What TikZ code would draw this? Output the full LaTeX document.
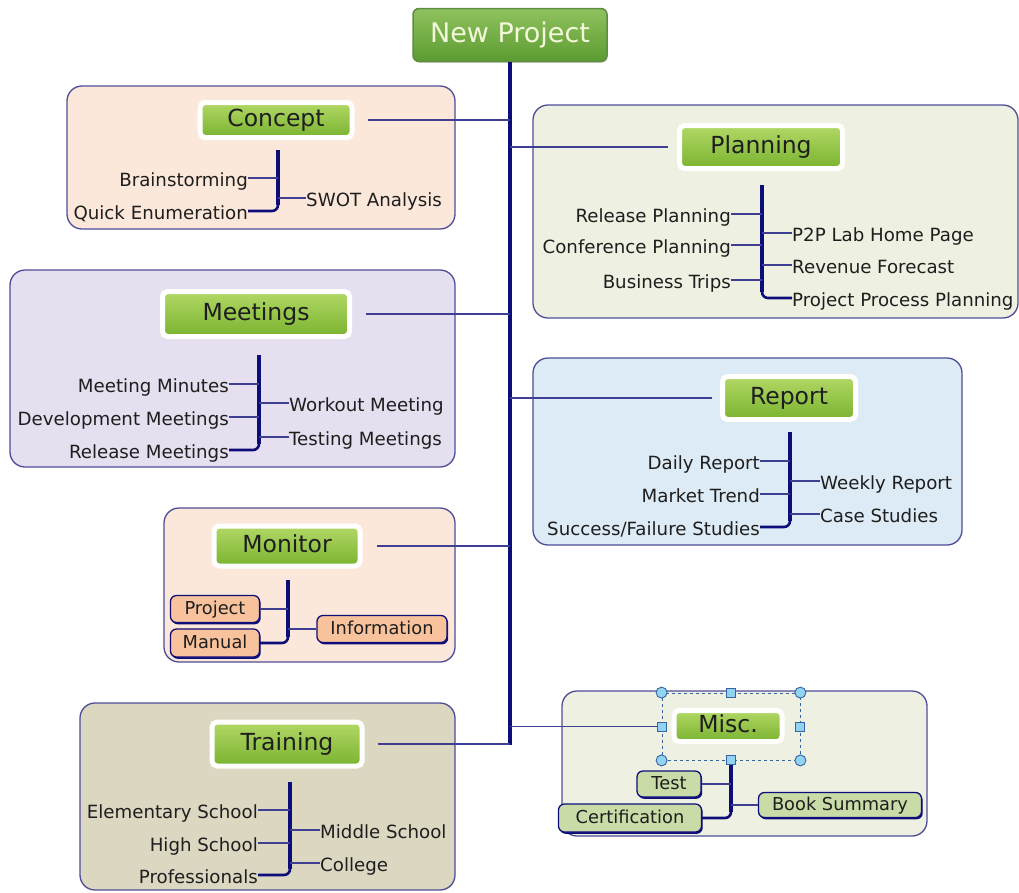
\documentclass[tikz,border=0pt]{standalone}
\usepackage{fontspec}
\setmainfont{DejaVu Sans}
\usetikzlibrary{shadows,calc}
\definecolor{navy}{HTML}{0D0D7A}
\definecolor{lineblue}{HTML}{3E3E92}
\definecolor{grpborder}{HTML}{4E4E98}
\definecolor{peach}{HTML}{FCE8DA}
\definecolor{sage}{HTML}{EEF1E1}
\definecolor{lavender}{HTML}{E5DFEF}
\definecolor{skyb}{HTML}{DCEBF5}
\definecolor{khaki}{HTML}{DBD7C1}
\definecolor{tgtop}{HTML}{B2D866}
\definecolor{tgbot}{HTML}{7AB32F}
\definecolor{nptop}{HTML}{8FC25E}
\definecolor{npbot}{HTML}{5C9B31}
\definecolor{npborder}{HTML}{5E8C44}
\definecolor{nptext}{HTML}{F3F8DA}
\definecolor{orangebox}{HTML}{F8C39C}
\definecolor{greenbox}{HTML}{C9DCA8}
\definecolor{handle}{HTML}{92D3F2}
\definecolor{handleb}{HTML}{3565A5}
\definecolor{txt}{HTML}{1E1E1E}
\begin{document}
\begin{tikzpicture}[x=1pt,y=-1pt,
  grp/.style={draw=grpborder, line width=1.3pt, rounded corners=15pt},
  topic/.style={rounded corners=5pt, draw=white, line width=5pt, top color=tgtop, bottom color=tgbot,
    font=\fontsize{23.5}{27}\selectfont, text=txt, inner sep=0pt, text height=17pt, text depth=4pt,
    drop shadow={shadow xshift=0.6pt, shadow yshift=-1.2pt, opacity=.3, fill=black!60}},
  leaf/.style={font=\fontsize{18.2}{21}\selectfont, text=txt, inner sep=0pt, text height=16.5pt, text depth=0pt},
  leafbox/.style={draw=navy, line width=1.3pt, rounded corners=6pt, font=\fontsize{17.8}{20}\selectfont,
    text=txt, inner sep=0pt, text height=13pt, text depth=3pt,
    drop shadow={shadow xshift=1.2pt, shadow yshift=-1.8pt, opacity=1, fill=navy}},
  bar/.style={draw=navy, line width=4.5pt},
  curve/.style={draw=navy, line width=2.6pt, rounded corners=6pt},
  conn/.style={draw=lineblue, line width=1.5pt},
  hcirc/.style={circle, draw=handleb, fill=handle, line width=0.9pt, minimum size=11pt, inner sep=0pt},
  hsq/.style={rectangle, draw=handleb, fill=handle, line width=0.9pt, minimum size=9pt, inner sep=0pt}
]
\useasboundingbox (0,0) rectangle (1019,892);

% group boxes
\draw[grp, fill=peach] (67,86) rectangle (455,229);
\draw[grp, fill=sage] (533,105) rectangle (1018,318);
\draw[grp, fill=lavender] (10,270) rectangle (455,467);
\draw[grp, fill=skyb] (533,358) rectangle (962,545);
\draw[grp, fill=peach] (164,508) rectangle (455,662);
\draw[grp, fill=khaki] (80,703) rectangle (455,890);
\draw[grp, fill=sage] (562,691) rectangle (927,836);

% root
\node[rounded corners=6pt, draw=npborder, line width=1.5pt, top color=nptop, bottom color=npbot,
  minimum width=194pt, minimum height=53pt, inner sep=0pt, text=nptext,
  font=\fontsize{27}{30}\selectfont,
  drop shadow={shadow xshift=0.6pt, shadow yshift=-1.2pt, opacity=.3, fill=black!60}] (np) at (510,35) {New Project};

% topics
\node[topic, minimum width=152pt, minimum height=35pt] (concept) at (276,120) {Concept};
\node[topic, minimum width=163pt, minimum height=43pt] (planning) at (761,147) {Planning};
\node[topic, minimum width=187pt, minimum height=45pt] (meet) at (256,314) {Meetings};
\node[topic, minimum width=133pt, minimum height=43pt] (report) at (789,398) {Report};
\node[topic, minimum width=146pt, minimum height=40pt] (mon) at (287,546) {Monitor};
\node[topic, minimum width=150pt, minimum height=44pt] (train) at (287,744) {Training};
\node[topic, minimum width=108pt, minimum height=31pt] (misc) at (728,726) {Misc.};

% trunk
\coordinate (tb) at (510,745);
\draw[bar] (np.south) -- (tb);
\draw[conn] ([xshift=13pt]concept.east) -- (concept.east -| tb);
\draw[conn] (planning.west -| tb) -- ([xshift=-9pt]planning.west);
\draw[conn] ([xshift=14pt]meet.east) -- (meet.east -| tb);
\draw[conn] (report.west -| tb) -- ([xshift=-8pt]report.west);
\draw[conn] ([xshift=14pt]mon.east) -- (mon.east -| tb);
\draw[conn] ([xshift=13pt]train.east) -- (train.east -| tb);

% selection around Misc
\node[draw=handleb, dashed, line width=0.8pt, minimum width=138pt, minimum height=67pt, inner sep=0pt] (sel) at (731,726.5) {};
\draw[conn] (sel.west -| tb) -- (sel.west);

% ---- Concept
\coordinate (cT) at (278,150); \coordinate (cB) at (278,211);
\node[leaf, anchor=east] (brain) at (248,178) {Brainstorming};
\node[leaf, anchor=east] (quick) at (248,211) {Quick Enumeration};
\node[leaf, anchor=west] (swot) at (306,198) {SWOT Analysis};
\draw[bar] (cT) -- ($(cB)+(0,-6)$);
\draw[conn] (brain.east) -- (brain.east -| cT);
\draw[curve] ($(cB)+(0,-10)$) |- (quick.east);
\draw[conn] (cT |- swot.west) -- (swot.west);

% ---- Planning
\coordinate (pT) at (762,185); \coordinate (pB) at (762,298);
\node[leaf, anchor=east] (relp) at (731,214) {Release Planning};
\node[leaf, anchor=east] (conf) at (731,245) {Conference Planning};
\node[leaf, anchor=east] (trip) at (731,280) {Business Trips};
\node[leaf, anchor=west] (p2p) at (792,233) {P2P Lab Home Page};
\node[leaf, anchor=west] (rev) at (792,265) {Revenue Forecast};
\node[leaf, anchor=west] (ppp) at (792,298) {Project Process Planning};
\draw[bar] (pT) -- ($(pB)+(0,-6)$);
\draw[conn] (relp.east) -- (relp.east -| pT);
\draw[conn] (conf.east) -- (conf.east -| pT);
\draw[conn] (trip.east) -- (trip.east -| pT);
\draw[conn] (pT |- p2p.west) -- (p2p.west);
\draw[conn] (pT |- rev.west) -- (rev.west);
\draw[curve] ($(pB)+(0,-10)$) |- (ppp.west);

% ---- Meetings
\coordinate (mT) at (259,355); \coordinate (mB) at (259,450);
\node[leaf, anchor=east] (mm) at (229,384) {Meeting Minutes};
\node[leaf, anchor=east] (dm) at (229,417) {Development Meetings};
\node[leaf, anchor=east] (rm) at (229,450) {Release Meetings};
\node[leaf, anchor=west] (wm) at (289,403) {Workout Meeting};
\node[leaf, anchor=west] (tm) at (289,437) {Testing Meetings};
\draw[bar] (mT) -- ($(mB)+(0,-6)$);
\draw[conn] (mm.east) -- (mm.east -| mT);
\draw[conn] (dm.east) -- (dm.east -| mT);
\draw[curve] ($(mB)+(0,-10)$) |- (rm.east);
\draw[conn] (mT |- wm.west) -- (wm.west);
\draw[conn] (mT |- tm.west) -- (tm.west);

% ---- Report
\coordinate (rT) at (790,432); \coordinate (rB) at (790,527);
\node[leaf, anchor=east] (daily) at (760,461) {Daily Report};
\node[leaf, anchor=east] (market) at (760,494) {Market Trend};
\node[leaf, anchor=east] (succ) at (760,527) {Success/Failure Studies};
\node[leaf, anchor=west] (weekly) at (820,481) {Weekly Report};
\node[leaf, anchor=west] (cases) at (820,514) {Case Studies};
\draw[bar] (rT) -- ($(rB)+(0,-6)$);
\draw[conn] (daily.east) -- (daily.east -| rT);
\draw[conn] (market.east) -- (market.east -| rT);
\draw[curve] ($(rB)+(0,-10)$) |- (succ.east);
\draw[conn] (rT |- weekly.west) -- (weekly.west);
\draw[conn] (rT |- cases.west) -- (cases.west);

% ---- Monitor
\coordinate (oT) at (288,580); \coordinate (oB) at (288,643);
\node[leafbox, fill=orangebox, minimum width=89pt, minimum height=27pt] (proj) at (215,609) {Project};
\node[leafbox, fill=orangebox, minimum width=89pt, minimum height=28pt] (manual) at (215,643) {Manual};
\node[leafbox, fill=orangebox, minimum width=130pt, minimum height=27pt] (info) at (382,629) {Information};
\draw[bar] (oT) -- ($(oB)+(0,-6)$);
\draw[conn] (proj.east) -- (proj.east -| oT);
\draw[curve] ($(oB)+(0,-10)$) |- (manual.east);
\draw[conn] (oT |- info.west) -- (info.west);

% ---- Training
\coordinate (tT) at (290,782); \coordinate (tB) at (290,875);
\node[leaf, anchor=east] (elem) at (258,810) {Elementary School};
\node[leaf, anchor=east] (high) at (258,843) {High School};
\node[leaf, anchor=east] (prof) at (258,875) {Professionals};
\node[leaf, anchor=west] (mid) at (320,830) {Middle School};
\node[leaf, anchor=west] (coll) at (320,863) {College};
\draw[bar] (tT) -- ($(tB)+(0,-6)$);
\draw[conn] (elem.east) -- (elem.east -| tT);
\draw[conn] (high.east) -- (high.east -| tT);
\draw[curve] ($(tB)+(0,-10)$) |- (prof.east);
\draw[conn] (tT |- mid.west) -- (mid.west);
\draw[conn] (tT |- coll.west) -- (coll.west);

% ---- Misc
\coordinate (xB) at (731,818);
\node[leafbox, fill=greenbox, minimum width=64pt, minimum height=26pt] (test) at (669,784) {Test};
\node[leafbox, fill=greenbox, minimum width=143pt, minimum height=28pt] (cert) at (630,818) {Certification};
\node[leafbox, fill=greenbox, minimum width=163pt, minimum height=25pt] (book) at (840,805) {Book Summary};
\draw[bar] (sel.south) -- ($(xB)+(0,-6)$);
\draw[conn] (test.east) -- (test.east -| xB);
\draw[curve] ($(xB)+(0,-10)$) |- (cert.east);
\draw[conn] (xB |- book.west) -- (book.west);

% handles
\node[hcirc] (h1) at (sel.north west) {};
\node[hcirc] (h2) at (sel.north east) {};
\node[hcirc] (h3) at (sel.south west) {};
\node[hcirc] (h4) at (sel.south east) {};
\node[hsq] (h5) at (sel.north) {};
\node[hsq] (h6) at (sel.west) {};
\node[hsq] (h7) at (sel.east) {};
\node[hsq] (h8) at (sel.south) {};
\end{tikzpicture}
\end{document}
